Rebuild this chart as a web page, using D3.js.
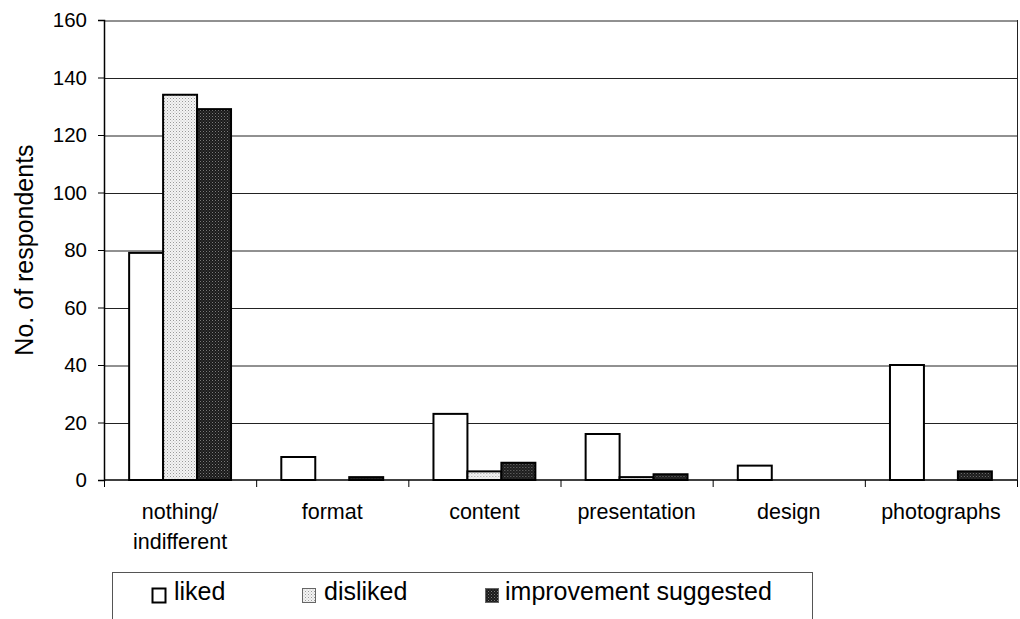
<!DOCTYPE html>
<html>
<head>
<meta charset="utf-8">
<script src="https://cdn.jsdelivr.net/npm/d3@7"></script>
<style>
  html, body { margin: 0; padding: 0; background: #fff; }
  svg { display: block; font-family: "Liberation Sans", Arial, sans-serif; }
</style>
</head>
<body>
<svg id="chart" width="1020" height="619"></svg>
<script>
// Survey responses by aspect of the publication
const categories = ["nothing/\nindifferent", "format", "content", "presentation", "design", "photographs"];
const seriesNames = ["liked", "disliked", "improvement suggested"];
const liked = [79, 8, 23, 16, 5, 40];
const disliked = [134, 0, 3, 1, 0, 0];
const improvement = [129, 1, 6, 2, 0, 3];
const yTicks = [0, 20, 40, 60, 80, 100, 120, 140, 160];
const yTitle = "No. of respondents";

const seriesValues = [liked, disliked, improvement];

const svg = d3.select("#chart");
const margin = { left: 104, right: 3, top: 20, bottom: 139 };
const W = 1020, H = 619;
const innerW = W - margin.left - margin.right;
const innerH = H - margin.top - margin.bottom;

// Fill patterns for the two shaded series
const defs = svg.append("defs");
const pLight = defs.append("pattern").attr("id", "pat-disliked")
  .attr("width", 3).attr("height", 3).attr("patternUnits", "userSpaceOnUse");
pLight.append("rect").attr("width", 3).attr("height", 3).attr("fill", "#f4f4f4");
pLight.append("rect").attr("x", 0).attr("y", 0).attr("width", 1).attr("height", 1).attr("fill", "#9a9a9a");
pLight.append("rect").attr("x", 1.5).attr("y", 1.5).attr("width", 1).attr("height", 1).attr("fill", "#bdbdbd");

const pDark = defs.append("pattern").attr("id", "pat-improve")
  .attr("width", 3).attr("height", 3).attr("patternUnits", "userSpaceOnUse");
pDark.append("rect").attr("width", 3).attr("height", 3).attr("fill", "#1a1a1a");
pDark.append("rect").attr("x", 0).attr("y", 0).attr("width", 1).attr("height", 1).attr("fill", "#7a7a7a");
pDark.append("rect").attr("x", 1.5).attr("y", 1.5).attr("width", 1).attr("height", 1).attr("fill", "#555");

const fills = ["#ffffff", "url(#pat-disliked)", "url(#pat-improve)"];

const g = svg.append("g").attr("transform", `translate(${margin.left},${margin.top})`);

const y = d3.scaleLinear().domain([0, 160]).range([innerH, 0]);
const x0 = d3.scaleBand().domain(d3.range(categories.length)).range([0, innerW]).paddingInner(0).paddingOuter(0);
const x1 = d3.scaleBand().domain(d3.range(seriesNames.length)).range([0, x0.bandwidth()])
  .paddingInner(0).paddingOuter(0.74);

// Horizontal gridlines
const grid = g.append("g").call(d3.axisLeft(y).tickValues(yTicks.filter(d => d > 0)).tickSize(-innerW).tickFormat(""));
grid.select(".domain").remove();
grid.selectAll("line").attr("stroke", "#222").attr("stroke-width", 1)
  .attr("transform", "translate(0,0.5)");

// Right border of the plot area
g.append("line").attr("x1", innerW + 0.5).attr("x2", innerW + 0.5)
  .attr("y1", 0).attr("y2", innerH + 7).attr("stroke", "#222");

// Bars
const groups = g.selectAll("g.cat").data(categories).join("g")
  .attr("class", "cat")
  .attr("transform", (d, i) => `translate(${x0(i)},0)`);

groups.each(function(cat, ci) {
  const data = seriesValues.map((arr, si) => ({ si, v: arr[ci] })).filter(d => d.v > 0);
  d3.select(this).selectAll("rect").data(data).join("rect")
    .attr("x", d => x1(d.si))
    .attr("y", d => y(d.v))
    .attr("width", x1.bandwidth())
    .attr("height", d => y(0) - y(d.v))
    .attr("fill", d => fills[d.si])
    .attr("stroke", "#000")
    .attr("stroke-width", 2);
});

// Y axis
const yAxis = g.append("g").call(d3.axisLeft(y).tickValues(yTicks).tickSize(6).tickPadding(11));
yAxis.select(".domain").attr("stroke", "#000").attr("stroke-width", 1.5);
yAxis.selectAll(".tick line").attr("stroke", "#000");
yAxis.selectAll("text").attr("font-size", "20.5px").attr("fill", "#000")
  .attr("font-family", "'Liberation Sans', Arial, sans-serif");

// X axis line with ticks at category boundaries
const xAxis = g.append("g").attr("transform", `translate(0,${innerH})`);
xAxis.append("line").attr("x1", 0).attr("x2", innerW).attr("y1", 0).attr("y2", 0)
  .attr("stroke", "#000").attr("stroke-width", 1.5);
const bounds = d3.range(categories.length + 1).map(i => i < categories.length ? x0(i) : x0.range()[1]);
xAxis.selectAll("line.tk").data(bounds).join("line").attr("class", "tk")
  .attr("x1", d => d + 0.5).attr("x2", d => d + 0.5).attr("y1", 0).attr("y2", 7)
  .attr("stroke", "#000");

// Category labels
const labels = xAxis.selectAll("text.cat").data(categories).join("text").attr("class", "cat")
  .attr("text-anchor", "middle")
  .attr("font-size", "21.5px")
  .attr("fill", "#000")
  .attr("transform", (d, i) => `translate(${x0(i) + x0.bandwidth() / 2},39)`);
labels.each(function(d) {
  d.split("\n").forEach((line, li) => {
    d3.select(this).append("tspan").attr("x", 0).attr("y", li * 29.5).text(line);
  });
});

// Y axis title
svg.append("text")
  .attr("transform", `translate(33,${margin.top + innerH / 2}) rotate(-90)`)
  .attr("text-anchor", "middle")
  .attr("font-size", "25px")
  .attr("fill", "#000")
  .text(yTitle);

// Legend
const legend = svg.append("g").attr("transform", "translate(112,572)");
legend.append("rect").attr("x", 0.5).attr("y", 0.5).attr("width", 700).attr("height", 60)
  .attr("fill", "none").attr("stroke", "#555").attr("stroke-width", 1);
const legendX = [40, 190, 373];
const items = legend.selectAll("g.item").data(seriesNames).join("g").attr("class", "item")
  .attr("transform", (d, i) => `translate(${legendX[i]},16)`);
items.append("rect").attr("x", 0.5).attr("y", 0.5).attr("width", 13).attr("height", 14)
  .attr("fill", (d, i) => fills[i]).attr("stroke", (d, i) => i === 0 ? "#000" : "#666")
  .attr("stroke-width", (d, i) => i === 0 ? 2 : 1);
items.append("text").attr("x", (d, i) => i === 2 ? 20 : 22).attr("y", 12)
  .attr("font-size", "25px").attr("fill", "#000").text(d => d);
</script>
</body>
</html>
